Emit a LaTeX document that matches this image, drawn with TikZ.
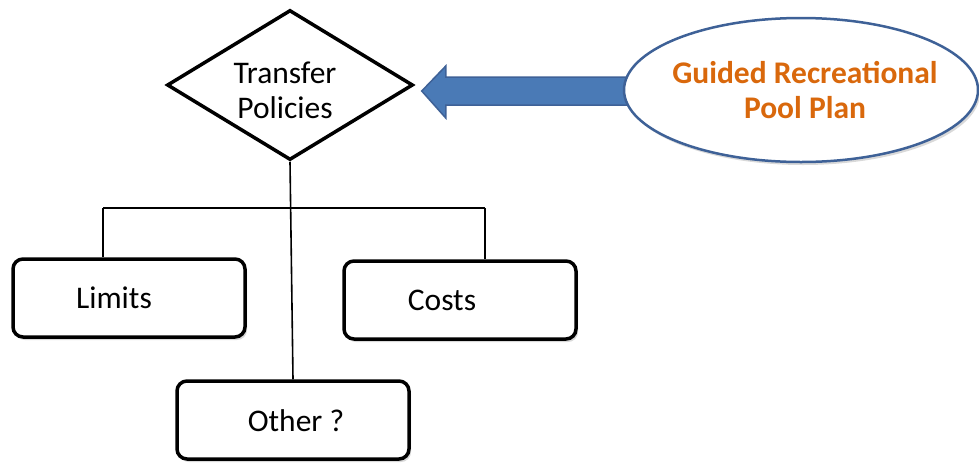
\documentclass[tikz,border=0pt]{standalone}
\usepackage{fontspec}
\setmainfont{Carlito}
\usetikzlibrary{shapes.geometric,shadows,calc}
\definecolor{planorange}{HTML}{D9680C}
\definecolor{planblue}{HTML}{3E6197}
\definecolor{arrowfill}{HTML}{4A7AB6}
\begin{document}
\begin{tikzpicture}[x=1pt,y=-1pt,
  softshadow/.style={drop shadow={shadow xshift=2pt,shadow yshift=-3pt,opacity=0.25,fill=black!60}},
  itembox/.style={draw,line width=3.5pt,rounded corners=10pt,fill=white,
    minimum width=232pt,minimum height=78pt,softshadow},
  decision/.style={diamond,draw,line width=3.5pt,fill=white,
    minimum width=246pt,minimum height=150pt,inner sep=0pt},
  branch/.style={line width=1.6pt},
  txt/.style={font=\fontsize{31.5}{35}\selectfont},
  plantxt/.style={font=\fontsize{31.5}{35}\selectfont\bfseries,text=planorange,align=center}]
\useasboundingbox (0,0) rectangle (979,464);

% decision diamond
\node[decision] (tp) at (290,85) {};
\node[txt,align=center] (tptxt) at (285,90) {Transfer\\Policies};

% the three outcomes
\node[itembox] (lim) at (129,298) {};
\node[txt] (limtxt) at (114,298) {Limits};
\node[itembox] (cost) at (460,300) {};
\node[txt] (costtxt) at (442,300) {Costs};
\node[itembox] (oth) at (293,420) {};
\node[txt] (othtxt) at (296,421) {Other ?};

% tree connectors
\coordinate (jl) at (103,208);
\coordinate (jr) at (485,208);
\draw[branch] (jl) -- (jr);
\draw[branch] (jl) -- (jl |- lim.north);
\draw[branch] (jr) -- (jr |- cost.north);
\draw[branch] (tp.south) -- (oth.north);

% block arrow from the plan into the diamond
\coordinate (tip) at ($(tp.east)+(7,6)$);
\draw[draw=planblue,fill=arrowfill,line width=1.5pt,line join=miter]
  (tip) -- ++(24,-25) -- ++(0,11) -- ++(190,0) -- ++(0,28) -- ++(-190,0) -- ++(0,13) -- cycle;

% plan ellipse
\node[ellipse,draw=planblue,line width=2.5pt,fill=white,
  minimum width=354pt,minimum height=144pt,softshadow] (pp) at (801,90) {};
\node[plantxt] (pptxt) at (805,90) {Guided Recreational\\Pool Plan};
\end{tikzpicture}
\end{document}
